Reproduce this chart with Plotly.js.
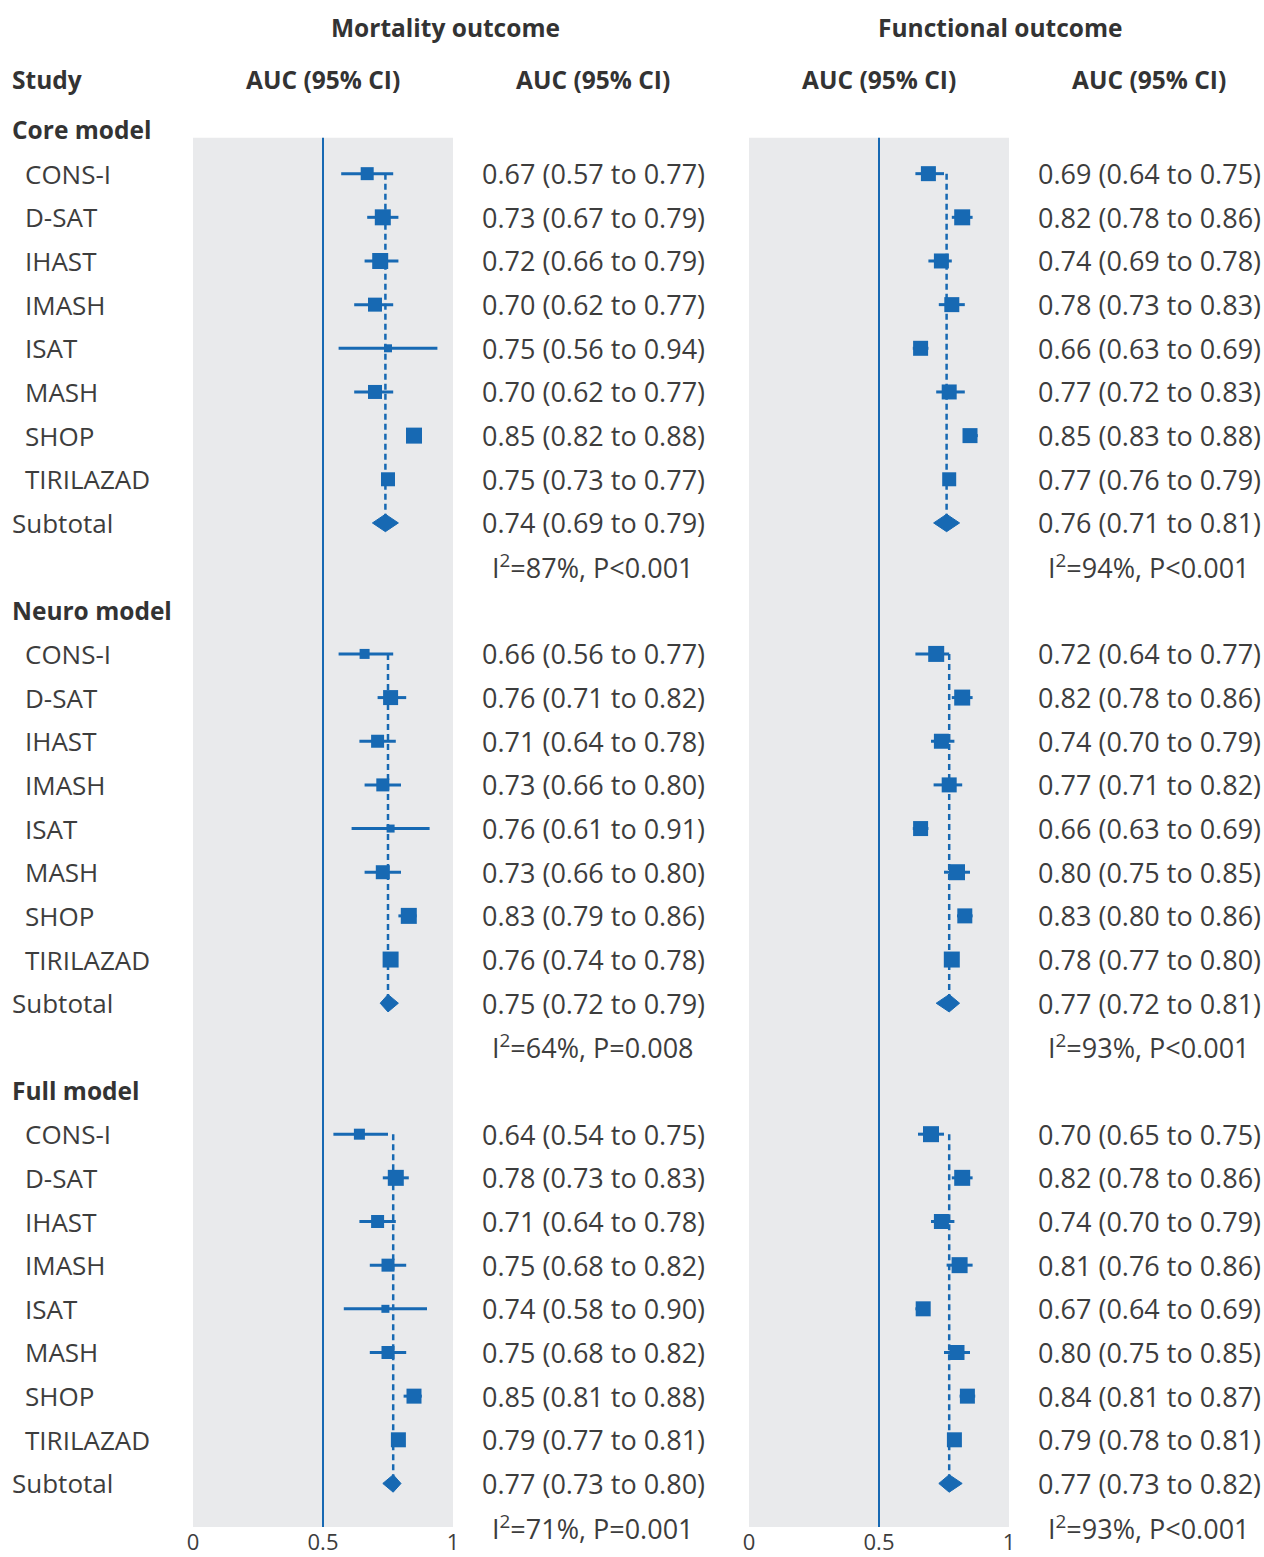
<!DOCTYPE html>
<html><head><meta charset="utf-8">
<script src="https://cdn.plot.ly/plotly-3.0.1.min.js"></script>
<style>body{margin:0;background:#fff}#chart{width:1264px;height:1557px}</style>
</head><body><div id="chart"></div>
<script>
// ---------- DATA ----------
const studies = ['CONS-I','D-SAT','IHAST','IMASH','ISAT','MASH','SHOP','TIRILAZAD'];
const models = ['Core model','Neuro model','Full model'];
const outcomes = ['Mortality outcome','Functional outcome'];
const tickVals = [0, 0.5, 1];
const tickText = ['0','0.5','1'];

// Mortality outcome
const mortCoreEst  = [0.67,0.73,0.72,0.70,0.75,0.70,0.85,0.75];
const mortCoreLo   = [0.57,0.67,0.66,0.62,0.56,0.62,0.82,0.73];
const mortCoreHi   = [0.77,0.79,0.79,0.77,0.94,0.77,0.88,0.77];
const mortNeuroEst = [0.66,0.76,0.71,0.73,0.76,0.73,0.83,0.76];
const mortNeuroLo  = [0.56,0.71,0.64,0.66,0.61,0.66,0.79,0.74];
const mortNeuroHi  = [0.77,0.82,0.78,0.80,0.91,0.80,0.86,0.78];
const mortFullEst  = [0.64,0.78,0.71,0.75,0.74,0.75,0.85,0.79];
const mortFullLo   = [0.54,0.73,0.64,0.68,0.58,0.68,0.81,0.77];
const mortFullHi   = [0.75,0.83,0.78,0.82,0.90,0.82,0.88,0.81];
const mortSubEst   = [0.74,0.75,0.77];
const mortSubLo    = [0.69,0.72,0.73];
const mortSubHi    = [0.79,0.79,0.80];
const mortI2       = [87,64,71];
const mortP        = ['<0.001','=0.008','=0.001'];

// Functional outcome
const funcCoreEst  = [0.69,0.82,0.74,0.78,0.66,0.77,0.85,0.77];
const funcCoreLo   = [0.64,0.78,0.69,0.73,0.63,0.72,0.83,0.76];
const funcCoreHi   = [0.75,0.86,0.78,0.83,0.69,0.83,0.88,0.79];
const funcNeuroEst = [0.72,0.82,0.74,0.77,0.66,0.80,0.83,0.78];
const funcNeuroLo  = [0.64,0.78,0.70,0.71,0.63,0.75,0.80,0.77];
const funcNeuroHi  = [0.77,0.86,0.79,0.82,0.69,0.85,0.86,0.80];
const funcFullEst  = [0.70,0.82,0.74,0.81,0.67,0.80,0.84,0.79];
const funcFullLo   = [0.65,0.78,0.70,0.76,0.64,0.75,0.81,0.78];
const funcFullHi   = [0.75,0.86,0.79,0.86,0.69,0.85,0.87,0.81];
const funcSubEst   = [0.76,0.77,0.77];
const funcSubLo    = [0.71,0.72,0.73];
const funcSubHi    = [0.81,0.81,0.82];
const funcI2       = [94,93,93];
const funcP        = ['<0.001','<0.001','<0.001'];

// ---------- STYLE ----------
const BLUE = '#1769b3';
const GRAY = '#e9eaec';
const TXT = '#3d3d3d';
const FONT = 'Open Sans, Noto Sans, sans-serif';
const FS = 26, FS_NUM = 27, FS_BOLD = 24.5;
// box side (px) for each study square (study weights)
const boxMort = [[13,16,16,14,8,14,16,14],[10,15,13,13,8,14,16,16],[11,16,13,13,8,13,15,15]];
const boxFunc = [[15,16,15,15,15,15,15,14],[16,16,15,15,15,16,15,16],[16,16,15,16,15,15,15,15]];

const W = 1264, H = 1557, B = 30;
const ROW0 = 130, ROWH = 43.66;            // pixel of row 0 and row pitch
const plotH = H - B;
const yTop = (0 - ROW0) / ROWH, yBot = (plotH - ROW0) / ROWH;
const rowToPaper = r => 1 - (ROW0 + ROWH * r) / plotH;
const pixToRow = p => (p - ROW0) / ROWH;

const panels = [
  {xa:'x', dom:[193,453], textX:593,
   est:[mortCoreEst,mortNeuroEst,mortFullEst], lo:[mortCoreLo,mortNeuroLo,mortFullLo], hi:[mortCoreHi,mortNeuroHi,mortFullHi],
   sEst:mortSubEst, sLo:mortSubLo, sHi:mortSubHi, i2:mortI2, p:mortP, box:boxMort, title:outcomes[0], titleX:445},
  {xa:'x2', dom:[749,1009], textX:1149,
   est:[funcCoreEst,funcNeuroEst,funcFullEst], lo:[funcCoreLo,funcNeuroLo,funcFullLo], hi:[funcCoreHi,funcNeuroHi,funcFullHi],
   sEst:funcSubEst, sLo:funcSubLo, sHi:funcSubHi, i2:funcI2, p:funcP, box:boxFunc, title:outcomes[1], titleX:1000}
];

const traces = [], shapes = [], annotations = [];
const px = v => v / W;
function ann(text, xPix, row, anchor, bold, size){
  annotations.push({text: bold ? '<b>'+text+'</b>' : text, x: px(xPix), xref:'paper', y: rowToPaper(row), yref:'paper',
    xanchor: anchor, yanchor:'middle', showarrow:false, borderpad:0,
    font:{family:FONT, size: size || (bold ? FS_BOLD : FS), color: bold ? '#333333' : TXT}});
}
const esc = s => s.replace('<','&lt;');

// left column
ann('Study', 11, pixToRow(79), 'left', true);
models.forEach((m, mi) => {
  const base = mi*11;
  ann(m, 11, base, 'left', true);
  studies.forEach((s, si) => ann(s, 24, base+1+si, 'left', false));
  ann('Subtotal', 11, base+9, 'left', false);
});

panels.forEach(P => {
  shapes.push({type:'rect', xref:P.xa, yref:'y', x0:0, x1:1, y0:0.18, y1:yBot, fillcolor:GRAY, line:{width:0}, layer:'below'});
  shapes.push({type:'line', xref:P.xa, yref:'y', x0:0.5, x1:0.5, y0:0.18, y1:yBot, line:{color:BLUE, width:2}, layer:'below'});
  ann(P.title, P.titleX, pixToRow(27), 'center', true);
  ann('AUC (95% CI)', (P.dom[0]+P.dom[1])/2, pixToRow(79), 'center', true);
  ann('AUC (95% CI)', P.textX, pixToRow(79), 'center', true);

  models.forEach((m, mi) => {
    const base = mi*11;
    const rows = studies.map((s, si) => base+1+si);
    const est = P.est[mi], lo = P.lo[mi], hi = P.hi[mi];
    const sE = P.sEst[mi], sL = P.sLo[mi], sH = P.sHi[mi];
    traces.push({type:'scatter', mode:'lines', xaxis:P.xa, yaxis:'y', x:[sE, sE], y:[rows[0], base+9],
      line:{color:BLUE, width:2.5, dash:'6px,4px'}, hoverinfo:'skip', showlegend:false});
    traces.push({type:'scatter', mode:'markers', xaxis:P.xa, yaxis:'y', x:est, y:rows,
      marker:{symbol:'square', size:P.box[mi], color:BLUE, opacity:1, line:{width:0}},
      error_x:{type:'data', symmetric:false, array:hi.map((h,i)=>h-est[i]), arrayminus:lo.map((l,i)=>est[i]-l),
               color:BLUE, thickness:3, width:0},
      showlegend:false, text:studies});
    const r = base+9, hh = 0.2;
    traces.push({type:'scatter', mode:'lines', xaxis:P.xa, yaxis:'y', x:[sL, sE, sH, sE, sL], y:[r, r-hh, r, r+hh, r],
      fill:'toself', fillcolor:BLUE, line:{color:BLUE, width:1}, showlegend:false, hoverinfo:'skip'});
    est.forEach((e, si) => ann(e.toFixed(2)+' ('+lo[si].toFixed(2)+' to '+hi[si].toFixed(2)+')', P.textX, rows[si], 'center', false, FS_NUM));
    ann(sE.toFixed(2)+' ('+sL.toFixed(2)+' to '+sH.toFixed(2)+')', P.textX, base+9, 'center', false, FS_NUM);
    ann('I<sup>2</sup>='+P.i2[mi]+'%, P'+esc(P.p[mi]), P.textX, base+10, 'center', false, FS_NUM);
  });
});

const xaxisBase = dom => ({domain:[dom[0]/W, dom[1]/W], range:[0,1], tickvals:tickVals, ticktext:tickText,
  showgrid:false, zeroline:false, showline:false, ticks:'', fixedrange:true,
  tickfont:{family:FONT, size:22, color:TXT}, anchor:'y'});

const layout = {
  width:W, height:H, margin:{l:0, r:0, t:0, b:B, pad:0},
  paper_bgcolor:'#ffffff', plot_bgcolor:'rgba(0,0,0,0)', showlegend:false,
  xaxis: xaxisBase(panels[0].dom),
  xaxis2: xaxisBase(panels[1].dom),
  yaxis:{range:[yBot, yTop], visible:false, domain:[0,1], fixedrange:true},
  shapes, annotations
};
Plotly.newPlot('chart', traces, layout, {displayModeBar:false, staticPlot:true});
</script></body></html>
